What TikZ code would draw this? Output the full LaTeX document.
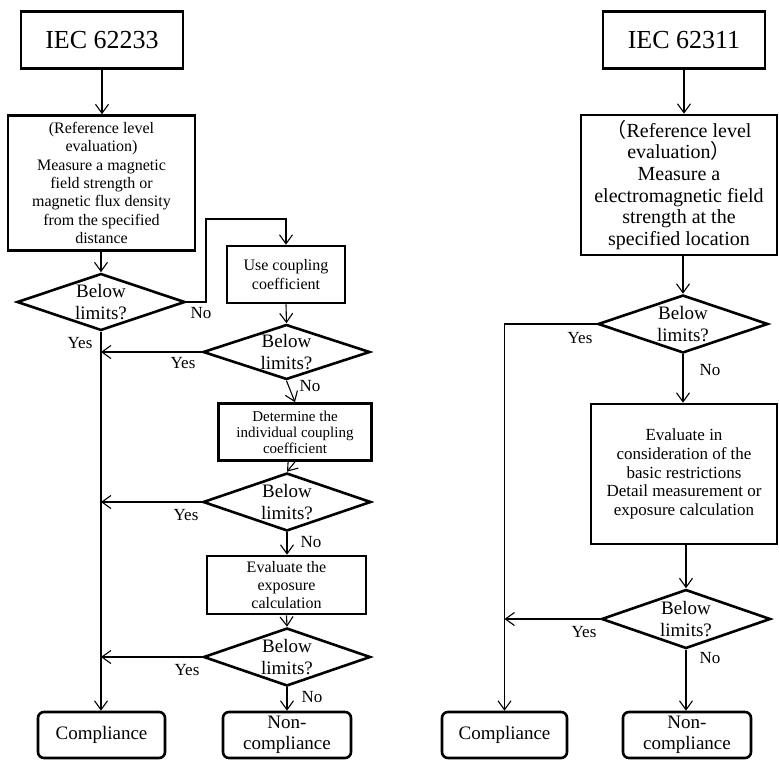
\documentclass[tikz,border=0pt]{standalone}
\usepackage{fontspec}
\setmainfont{Liberation Serif}
\newfontfamily\cjkfont{Noto Sans CJK SC}
\usetikzlibrary{arrows.meta,shapes.geometric}
\newcommand\fsTitle{\fontsize{26}{30}\selectfont}
\newcommand\fsBody{\fontsize{16}{18.3}\selectfont}
\newcommand\fsSmall{\fontsize{15}{16}\selectfont}
\newcommand\fsBig{\fontsize{20}{21.7}\selectfont}
\newcommand\fsMid{\fontsize{17}{18.7}\selectfont}
\newcommand\fsDia{\fontsize{19}{22}\selectfont}
\newcommand\fsLab{\fontsize{17}{20}\selectfont}
\newcommand\fsEnd{\fontsize{19}{21}\selectfont}
\begin{document}
\begin{tikzpicture}[x=1pt,y=-1pt,
  box/.style={draw,line width=2.6pt,rectangle,inner sep=0pt,align=center},
  endbox/.style={draw,line width=2.6pt,rectangle,rounded corners=6pt,inner sep=0pt,align=center,font=\fsEnd,minimum width=127pt,minimum height=46pt},
  dia/.style={draw,line width=2.6pt,diamond,inner sep=0pt,
    label={[font=\fsDia,align=center]center:Below\\limits?}},
  arr/.style={line width=1.1pt,-{Straight Barb[length=9pt,width=13pt]}},
  lab/.style={font=\fsLab,inner sep=0pt}]
\useasboundingbox (0,0) rectangle (779,760);

% ---------------- Left flow (IEC 62233) ----------------
\node[box,font=\fsTitle,minimum width=162pt,minimum height=57pt] (t1) at (102,40) {IEC 62233};
\node[box,font=\fsBody,minimum width=187pt,minimum height=135pt] (m1) at (101.5,183)
  {(Reference level\\evaluation)\\Measure a magnetic\\field strength or\\magnetic flux density\\from the specified\\distance};
\node[dia,minimum width=168pt,minimum height=57pt] (d1) at (101,302) {};
\node[box,font=\fsBody,minimum width=118pt,minimum height=57pt] (u1) at (286,274.5) {Use coupling\\coefficient};
\node[dia,minimum width=167pt,minimum height=55pt] (d2) at (286.5,352) {};
\node[box,font=\fsSmall,minimum width=153pt,minimum height=57pt] (dt) at (295,432) {Determine the\\individual coupling\\coefficient};
\node[dia,minimum width=168pt,minimum height=58pt] (d3) at (287,502) {};
\node[box,font=\fsBody,minimum width=159pt,minimum height=58pt] (ev) at (286.5,585) {Evaluate the\\exposure\\calculation};
\node[dia,minimum width=167pt,minimum height=58pt] (d4) at (287,657) {};
\node[endbox] (c1) at (101.5,735) {Compliance};
\node[endbox,minimum width=128pt] (n1) at (287,735) {Non-\\compliance};

\coordinate (k1) at (206,219);
\draw[arr] (t1.south) -- (t1.south |- m1.north);
\draw[arr] (d1.north |- m1.south) -- (d1.north);
\draw[arr] (d1.east) -| (k1) -| (u1.north);
\draw[arr] (u1.south) -- (d2.north);
\draw[arr] (d1.south) -- (d1.south |- c1.north);
\draw[arr] (d2.west) -- (d2.west -| d1.south);
\draw[arr] (d2.south) -- (dt.north);
\draw[arr] (dt.south) -- (d3.north);
\draw[arr] (d3.west) -- (d3.west -| d1.south);
\draw[arr] (d3.south) -- (d3.south |- ev.north);
\draw[arr] (ev.south) -- (d4.north);
\draw[arr] (d4.west) -- (d4.west -| d1.south);
\draw[arr] (d4.south) -- (n1.north);

\node[lab] (l1) at (201,313) {No};
\node[lab] (l2) at (80,343) {Yes};
\node[lab] (l3) at (183,363) {Yes};
\node[lab] (l4) at (310,386) {No};
\node[lab] (l5) at (186,515) {Yes};
\node[lab] (l6) at (311,542) {No};
\node[lab] (l7) at (187,670) {Yes};
\node[lab] (l8) at (312,697) {No};

% ---------------- Right flow (IEC 62311) ----------------
\node[box,font=\fsTitle,minimum width=162pt,minimum height=57pt] (t2) at (684,40) {IEC 62311};
\node[box,font=\fsBig,minimum width=196pt,minimum height=140pt] (m2) at (679,185)
  {{\cjkfont （}Reference level\\evaluation{\cjkfont ）}\\Measure a\\electromagnetic field\\strength at the\\specified location};
\node[dia,minimum width=170pt,minimum height=58pt] (d5) at (683,324) {};
\node[box,font=\fsMid,minimum width=186pt,minimum height=140pt] (e2) at (684,474)
  {Evaluate in\\consideration of the\\basic restrictions\\Detail measurement or\\exposure calculation};
\node[dia,minimum width=169pt,minimum height=59pt] (d6) at (686,619) {};
\node[endbox,minimum width=125pt] (c2) at (504.5,735) {Compliance};
\node[endbox,minimum width=128pt] (n2) at (687,735) {Non-\\compliance};

\draw[arr] (t2.south) -- (t2.south |- m2.north);
\draw[arr] (d5.north |- m2.south) -- (d5.north);
\draw[arr] (d5.west) -| (c2.north);
\draw[arr] (d5.south) -- (d5.south |- e2.north);
\draw[arr] (d6.north |- e2.south) -- (d6.north);
\draw[arr] (d6.west) -- (d6.west -| c2.north);
\draw[arr] (d6.south) -- (d6.south |- n2.north);

\node[lab] (l9) at (580,338) {Yes};
\node[lab] (l10) at (710,370) {No};
\node[lab] (l11) at (584,632) {Yes};
\node[lab] (l12) at (710,658) {No};
\end{tikzpicture}
\end{document}
